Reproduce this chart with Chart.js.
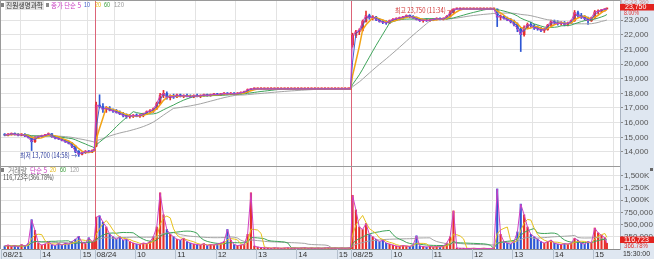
<!DOCTYPE html>
<html>
<head>
<meta charset="utf-8">
<script src="https://cdn.jsdelivr.net/npm/chart.js@4.4.1/dist/chart.umd.min.js"></script>
<style>
  html, body { margin: 0; padding: 0; background: #fff; }
</style>
</head>
<body>
<canvas id="myChart" width="654" height="259"></canvas>
<script>
// 5-minute slots, plus the 15:30 closing bar of each day
const sessions = [
  { date: '08/21', first: '13:05' },
  { date: '08/24', first: '09:00' },
  { date: '08/25', first: '09:00' },
];

const open = [
  // 08/21
  15200, 15150, 15200, 15250, 15200, 15150, 15200, 15100, 15000, 14700, 15000, 15050, 15100, 15150,
  15250, 15050, 14950, 14900, 14800, 14700, 14600, 14400, 14050, 13850, 13950, 14050, 14000, 14100,
  // 08/24
  14400, 17200, 17100, 16900, 17000, 16850, 16800, 16700, 16600, 16500, 16400, 16450, 16500, 16450,
  16500, 16600, 16750, 16800, 16950, 17300, 17850, 18000, 17700, 17800, 17750, 17900, 17800, 17850,
  17800, 17750, 17850, 17800, 17850, 17900, 17850, 17900, 17950, 17900, 17950, 18000, 17950, 18000,
  17950, 18000, 18050, 18100, 18250, 18300, 18300, 18300, 18300, 18300, 18300, 18300, 18300, 18300,
  18300, 18300, 18300, 18300, 18300, 18300, 18300, 18300, 18300, 18300, 18300, 18300, 18300, 18300,
  18300, 18300, 18300, 18300, 18300, 18300, 18300,
  // 08/25
  21300, 21950, 22200, 22300, 22900, 23300, 23150, 23200, 23050, 22900, 22850, 22800, 22950, 23050,
  23100, 23150, 23200, 23300, 23250, 23150, 23050, 22950, 23000, 22950, 23000, 23050, 23100, 23050,
  23100, 23250, 23500, 23750, 23750, 23750, 23750, 23750, 23750, 23750, 23750, 23750, 23750, 23750,
  23750, 23750, 23200, 23250, 23100, 23000, 22900, 22700, 22400, 22000, 22500, 22700, 22600, 22450,
  22400, 22300, 22350, 22650, 22900, 22800, 22750, 22800, 22700, 22800, 22950, 23500, 23300, 23200,
  23100, 22950, 23150, 23550, 23600, 23700, 23750,
];
const high = [
  15250, 15250, 15300, 15300, 15250, 15250, 15250, 15150, 15050, 15050, 15100, 15150, 15200, 15300,
  15250, 15100, 15000, 14950, 14850, 14750, 14650, 14450, 14100, 14000, 14100, 14100, 14150, 14100,
  17400, 17900, 17300, 17100, 17100, 16950, 16900, 16800, 16700, 16600, 16550, 16550, 16600, 16550,
  16650, 16800, 16900, 17000, 17400, 18000, 18200, 18100, 17900, 17950, 17950, 17950, 17900, 17950,
  17900, 17900, 17950, 17900, 17950, 17950, 17950, 18000, 18000, 18000, 18050, 18050, 18050, 18050,
  18050, 18100, 18150, 18300, 18300, 18300, 18300, 18300, 18300, 18300, 18300, 18300, 18300, 18300,
  18300, 18300, 18300, 18300, 18300, 18300, 18300, 18300, 18300, 18300, 18300, 18300, 18300, 18300,
  18300, 18300, 18300, 18300, 18300, 18300, 18300,
  22100, 22300, 22400, 23000, 23600, 23400, 23300, 23250, 23100, 23000, 22950, 23000, 23100, 23150,
  23200, 23250, 23350, 23350, 23300, 23200, 23100, 23050, 23100, 23050, 23100, 23150, 23150, 23150,
  23300, 23600, 23750, 23750, 23750, 23750, 23750, 23750, 23750, 23750, 23750, 23750, 23750, 23750,
  23750, 23750, 23350, 23300, 23200, 23100, 23000, 22800, 22500, 22600, 22800, 22850, 22700, 22600,
  22500, 22450, 22700, 23000, 23000, 22950, 22900, 22900, 22850, 23000, 23650, 23600, 23450, 23300,
  23200, 23200, 23650, 23700, 23700, 23750, 23750,
];
const low = [
  15100, 15100, 15150, 15150, 15100, 15100, 15050, 14950, 14100, 14650, 14950, 15000, 15050, 15100,
  15000, 14900, 14850, 14750, 14650, 14550, 14300, 13950, 13700, 13800, 13900, 13950, 13950, 14100,
  14350, 17000, 16700, 16700, 16800, 16700, 16650, 16550, 16400, 16300, 16300, 16350, 16400, 16350,
  16400, 16550, 16650, 16700, 16900, 17250, 17700, 17600, 17550, 17650, 17700, 17750, 17700, 17750,
  17700, 17700, 17750, 17700, 17800, 17800, 17800, 17850, 17850, 17850, 17900, 17900, 17900, 17900,
  17900, 17950, 18000, 18050, 18200, 18300, 18300, 18300, 18300, 18300, 18300, 18300, 18300, 18300,
  18300, 18300, 18300, 18300, 18300, 18300, 18300, 18300, 18300, 18300, 18300, 18300, 18300, 18300,
  18300, 18300, 18300, 18300, 18300, 18300, 18300,
  21150, 21800, 22000, 22250, 22850, 23050, 23000, 22950, 22850, 22750, 22700, 22750, 22900, 22950,
  23000, 23050, 23150, 23150, 23100, 23000, 22900, 22850, 22900, 22900, 22950, 23000, 23000, 23000,
  23050, 23200, 23450, 23750, 23750, 23750, 23750, 23750, 23750, 23750, 23750, 23750, 23750, 23750,
  23750, 22550, 23000, 23050, 22950, 22800, 22600, 22200, 20850, 21900, 22400, 22500, 22350, 22300,
  22200, 22150, 22300, 22600, 22700, 22650, 22650, 22600, 22600, 22750, 22900, 23200, 23100, 23000,
  22700, 22900, 23100, 23400, 23500, 23600, 23750,
];
const close = [
  15150, 15200, 15250, 15200, 15150, 15200, 15100, 15000, 14700, 15000, 15050, 15100, 15150, 15250,
  15050, 14950, 14900, 14800, 14700, 14600, 14400, 14050, 13850, 13950, 14050, 14000, 14100, 14100,
  17200, 17100, 16900, 17000, 16850, 16800, 16700, 16600, 16500, 16400, 16450, 16500, 16450, 16500,
  16600, 16750, 16800, 16950, 17300, 17850, 18000, 17700, 17800, 17750, 17900, 17800, 17850, 17800,
  17750, 17850, 17800, 17850, 17900, 17850, 17900, 17950, 17900, 17950, 18000, 17950, 18000, 17950,
  18000, 18050, 18100, 18250, 18300, 18300, 18300, 18300, 18300, 18300, 18300, 18300, 18300, 18300,
  18300, 18300, 18300, 18300, 18300, 18300, 18300, 18300, 18300, 18300, 18300, 18300, 18300, 18300,
  18300, 18300, 18300, 18300, 18300, 18300, 18300,
  21950, 22200, 22300, 22900, 23300, 23150, 23200, 23050, 22900, 22850, 22800, 22950, 23050, 23100,
  23150, 23200, 23300, 23250, 23150, 23050, 22950, 23000, 22950, 23000, 23050, 23100, 23050, 23100,
  23250, 23500, 23750, 23750, 23750, 23750, 23750, 23750, 23750, 23750, 23750, 23750, 23750, 23750,
  23750, 23200, 23250, 23100, 23000, 22900, 22700, 22400, 22000, 22500, 22700, 22600, 22450, 22400,
  22300, 22350, 22650, 22900, 22800, 22750, 22800, 22700, 22800, 22950, 23500, 23300, 23200, 23100,
  22950, 23150, 23550, 23600, 23700, 23750, 23750,
];
// largest 1-minute volume in each slot, thousands of shares
const volume = [
  60, 80, 50, 70, 40, 90, 60, 110, 600, 380, 120, 80, 100, 150,
  90, 70, 110, 80, 120, 100, 150, 200, 260, 130, 110, 230, 150, 180,
  650, 680, 550, 450, 300, 250, 200, 250, 180, 200, 150, 120, 100, 90,
  120, 110, 150, 250, 450, 1150, 700, 400, 300, 250, 200, 180, 220, 150,
  120, 100, 90, 80, 110, 70, 90, 80, 100, 120, 150, 400, 180, 90,
  70, 80, 90, 300, 1150, 60, 40, 30, 25, 20, 15, 25, 20, 15,
  20, 25, 15, 20, 15, 20, 25, 15, 20, 15, 20, 15, 20, 25,
  15, 20, 15, 20, 15, 20, 30,
  1100, 800, 450, 400, 520, 300, 250, 200, 150, 180, 120, 100, 80, 60,
  50, 70, 60, 50, 80, 270, 60, 50, 40, 50, 40, 50, 40, 60,
  120, 250, 780, 20, 15, 15, 10, 10, 15, 10, 10, 15, 10, 10,
  15, 1230, 300, 150, 120, 100, 150, 350, 920, 700, 450, 300, 250, 200,
  150, 120, 150, 180, 120, 100, 90, 110, 100, 120, 220, 180, 120, 100,
  150, 130, 430, 330, 280, 230, 117,
];

const tickDays = [0, 0, 0, 1, 1, 1, 1, 1, 1, 1, 2, 2, 2, 2, 2, 2, 2];
const tickTimes = ['13:02', '14:00', '15:00', '09:00', '10:00', '11:00', '12:00', '13:00', '14:00', '15:00',
                   '09:00', '10:00', '11:00', '12:00', '13:00', '14:00', '15:00'];
const tickLabels = ['08/21', '14', '15', '08/24', '10', '11', '12', '13', '14', '15',
                    '08/25', '10', '11', '12', '13', '14', '15'];
const priceTicks = [14000, 15000, 16000, 17000, 18000, 19000, 20000, 21000, 22000, 23000];
const volumeTicks = [250000, 500000, 750000, 1000000, 1250000, 1500000];

// minute-bar index: each day has 380 bars (09:00-15:19) plus the 15:30 bar
const toMin = t => {
  const [h, m] = t.split(':').map(Number);
  return t === '15:30' ? 380 : (h - 9) * 60 + m;
};
const barX = [];
sessions.forEach((s, d) => {
  for (let m = toMin(s.first); m <= toMin('15:15'); m += 5) barX.push(d * 381 + m + 2.5);
  barX.push(d * 381 + 380.5);
});
const tickValues = tickDays.map((d, i) => d * 381 + toMin(tickTimes[i]));
const xMin = tickValues[0];
const xMax = xMin + 920;

function sma(src, minutes) {
  const w = Math.max(1, Math.round(minutes / 5));
  return src.map((_, i) => {
    const part = src.slice(Math.max(0, i - w + 1), i + 1);
    return part.reduce((a, b) => a + b, 0) / part.length;
  });
}

const UP = '#e6302c', DOWN = '#2d56d4';
const barColor = close.map((c, i) => (c >= open[i] ? UP : DOWN));
const shares = volume.map(v => v * 1000);

function maLine(src, n, color, width, axis) {
  const avg = sma(src, n);
  return {
    type: 'line', yAxisID: axis, order: 1,
    data: barX.map((x, i) => ({ x, y: avg[i] })),
    borderColor: color, borderWidth: width, pointRadius: 0, tension: 0,
  };
}

const datasets = [
  maLine(close, 5, '#d040c4', 1, 'y'),
  maLine(close, 10, '#4262d2', 1, 'y'),
  maLine(close, 20, '#f2a414', 1.5, 'y'),
  maLine(close, 60, '#3fa45a', 1, 'y'),
  maLine(close, 120, '#a4a4a4', 1, 'y'),
  {
    label: 'body', yAxisID: 'y', order: 4, grouped: false, barThickness: 2, minBarLength: 1,
    data: barX.map((x, i) => ({ x, y: [Math.min(open[i], close[i]), Math.max(open[i], close[i])] })),
    backgroundColor: barColor,
  },
  {
    label: 'wick', yAxisID: 'y', order: 5, grouped: false, barThickness: 1, minBarLength: 1,
    data: barX.map((x, i) => ({ x, y: [low[i], high[i]] })),
    backgroundColor: barColor,
  },
  maLine(shares, 5, '#d040c4', 1, 'y2'),
  maLine(shares, 20, '#e8c21c', 1, 'y2'),
  maLine(shares, 60, '#3fa45a', 1, 'y2'),
  maLine(shares, 120, '#a4a4a4', 1, 'y2'),
  {
    label: 'volume', yAxisID: 'y2', order: 6, grouped: false, barThickness: 1.5,
    data: barX.map((x, i) => ({ x, y: shares[i] })),
    backgroundColor: barColor,
  },
];

const KR = "'Noto Sans CJK KR', sans-serif";
const LAT = "'Liberation Sans', sans-serif";
function text(ctx, str, x, y, color, maxW, size = 7, family = KR) {
  ctx.font = size + 'px ' + family;
  ctx.fillStyle = color;
  ctx.textBaseline = 'middle';
  ctx.textAlign = 'left';
  ctx.fillText(str, x, y, maxW);
}

const panels = {
  id: 'panels',
  beforeDraw(chart) {
    const { ctx, chartArea: a, width, height } = chart;
    ctx.save();
    ctx.fillStyle = '#fff';
    ctx.fillRect(0, 0, width, height);
    ctx.fillStyle = '#dfe7f1';
    ctx.fillRect(a.right, 0, width - a.right, height);
    ctx.fillRect(0, a.bottom, width, height - a.bottom);
    ctx.restore();
  },
  beforeDatasetsDraw(chart) {
    const { ctx, chartArea: a, scales } = chart;
    ctx.save();
    ctx.strokeStyle = '#dc6478';
    ctx.lineWidth = 1;
    [381, 762].forEach(v => {
      const px = Math.round(scales.x.getPixelForValue(v)) + 0.5;
      ctx.beginPath();
      ctx.moveTo(px, a.top);
      ctx.lineTo(px, a.bottom);
      ctx.stroke();
    });
    ctx.restore();
  },
  afterDraw(chart) {
    const { ctx, chartArea: a, scales, width, height } = chart;
    ctx.save();
    // separators in the time row
    ctx.strokeStyle = '#b4c0ce';
    ctx.lineWidth = 1;
    tickValues.forEach(v => {
      const px = Math.round(scales.x.getPixelForValue(v)) + 0.5;
      ctx.beginPath();
      ctx.moveTo(px, a.bottom);
      ctx.lineTo(px, height);
      ctx.stroke();
    });
    // frame and panel separator
    ctx.strokeStyle = '#9a9a9a';
    ctx.beginPath();
    ctx.moveTo(0.5, a.top);
    ctx.lineTo(0.5, a.bottom);
    ctx.moveTo(a.left, a.top + 0.5);
    ctx.lineTo(a.right, a.top + 0.5);
    const sep = Math.round(scales.y.bottom) + 0.5;
    ctx.moveTo(a.left, sep);
    ctx.lineTo(a.right, sep);
    ctx.stroke();

    // price panel header
    ctx.fillStyle = '#808080';
    ctx.fillRect(1, 3, 3, 4);
    ctx.fillStyle = '#e2e2e2';
    ctx.fillRect(5, 1, 39, 9);
    text(ctx, '진원생명과학', 6, 5.5, '#333', 37);
    ctx.fillStyle = '#8a8a8a';
    ctx.fillRect(46, 3, 3, 4);
    text(ctx, '종가 단순 5', 51, 5.5, '#c83cc0', 30);
    text(ctx, '10', 84, 5.5, '#3c5ac8', 6, 7, LAT);
    text(ctx, '20', 95, 5.5, '#e4b400', 6, 7, LAT);
    text(ctx, '60', 104, 5.5, '#3aa03a', 6, 7, LAT);
    text(ctx, '120', 114, 5.5, '#9a9a9a', 10, 7, LAT);

    // high / low marks
    text(ctx, '최고 23,750 (11:34) →', 395, 10.5, '#d03030', 58);
    text(ctx, '최저 13,700 (14:58) →', 20, 155, '#2a3a9a', 57);

    // volume panel header
    const vt = scales.y2.top;
    ctx.fillStyle = '#808080';
    ctx.fillRect(1, vt + 2, 3, 4);
    text(ctx, '거래량', 8, vt + 4.5, '#777', 19);
    text(ctx, '단순 5', 30, vt + 4.5, '#c83cc0', 17);
    text(ctx, '20', 50, vt + 4.5, '#e4b400', 6, 7, LAT);
    text(ctx, '60', 60, vt + 4.5, '#3aa03a', 6, 7, LAT);
    text(ctx, '120', 70, vt + 4.5, '#9a9a9a', 9, 7, LAT);
    text(ctx, '116,723주(366.78%)', 3, vt + 11.5, '#444', 51);
    ctx.fillStyle = '#666';
    ctx.fillRect(650, vt + 2, 3, 3);

    // right-hand value boxes
    text(ctx, 'LC:23,360', 621, 2.5, '#c88c8c', 30, 6, LAT);
    ctx.fillStyle = '#e2231f';
    ctx.fillRect(a.right, 4, width - a.right, 6.5);
    text(ctx, '23,750', 625, 7.4, '#fff', 22, 7, LAT);
    text(ctx, '8.00%', 624, 13.5, '#e03030', 15, 7, LAT);

    ctx.fillStyle = '#e2231f';
    ctx.fillRect(a.right, 236.5, width - a.right, 6.5);
    text(ctx, '116,723', 624, 239.9, '#fff', 26, 7, LAT);
    text(ctx, '366.78%', 624, 245.7, '#e03030', 24, 7, LAT);
    text(ctx, '15:30:00', 623, 254, '#333', 27, 7, LAT);
    ctx.restore();
  },
};

const noPad = s => { s.paddingTop = 0; s.paddingBottom = 0; s.paddingLeft = 0; s.paddingRight = 0; };

new Chart(document.getElementById('myChart'), {
  type: 'bar',
  data: { datasets },
  options: {
    responsive: false,
    animation: false,
    devicePixelRatio: 1,
    events: [],
    layout: { padding: { left: 1, top: 0, right: 0, bottom: 0 } },
    plugins: { legend: { display: false }, tooltip: { enabled: false } },
    scales: {
      x: {
        type: 'linear', min: xMin, max: xMax, offset: false,
        grid: { color: '#e3e3e3', drawTicks: false },
        border: { color: '#8c8c8c' },
        afterBuildTicks: s => { s.ticks = tickValues.map(v => ({ value: v })); },
        afterFit: s => { s.height = 10; noPad(s); },
        ticks: {
          autoSkip: false, maxRotation: 0, minRotation: 0, align: 'start', labelOffset: 2, padding: 1,
          color: '#333', font: { size: 8 },
          callback: (v, i) => tickLabels[i],
        },
      },
      y: {
        position: 'right', stack: 'panes', stackWeight: 2,
        min: 13045, max: 24364,
        grid: { color: '#e3e3e3', tickLength: 3, tickColor: '#8c8c8c' },
        border: { color: '#aab4c2' },
        afterBuildTicks: s => { s.ticks = priceTicks.map(v => ({ value: v })); },
        afterFit: s => { s.width = 34; noPad(s); },
        ticks: {
          autoSkip: false, padding: 1, color: '#555', font: { size: 8 },
          callback: v => v.toLocaleString('en-US'),
        },
      },
      y2: {
        position: 'right', stack: 'panes', stackWeight: 1,
        min: 0, max: 1700000,
        grid: { color: '#e3e3e3', tickLength: 3, tickColor: '#8c8c8c' },
        border: { color: '#aab4c2' },
        afterBuildTicks: s => { s.ticks = volumeTicks.map(v => ({ value: v })); },
        afterFit: s => { s.width = 34; noPad(s); },
        ticks: {
          autoSkip: false, padding: 1, color: '#555', font: { size: 8 },
          callback: v => (v >= 1000000 ? (v / 1000).toLocaleString('en-US') + 'K' : v.toLocaleString('en-US')),
        },
      },
    },
  },
  plugins: [panels],
});
</script>
</body>
</html>
